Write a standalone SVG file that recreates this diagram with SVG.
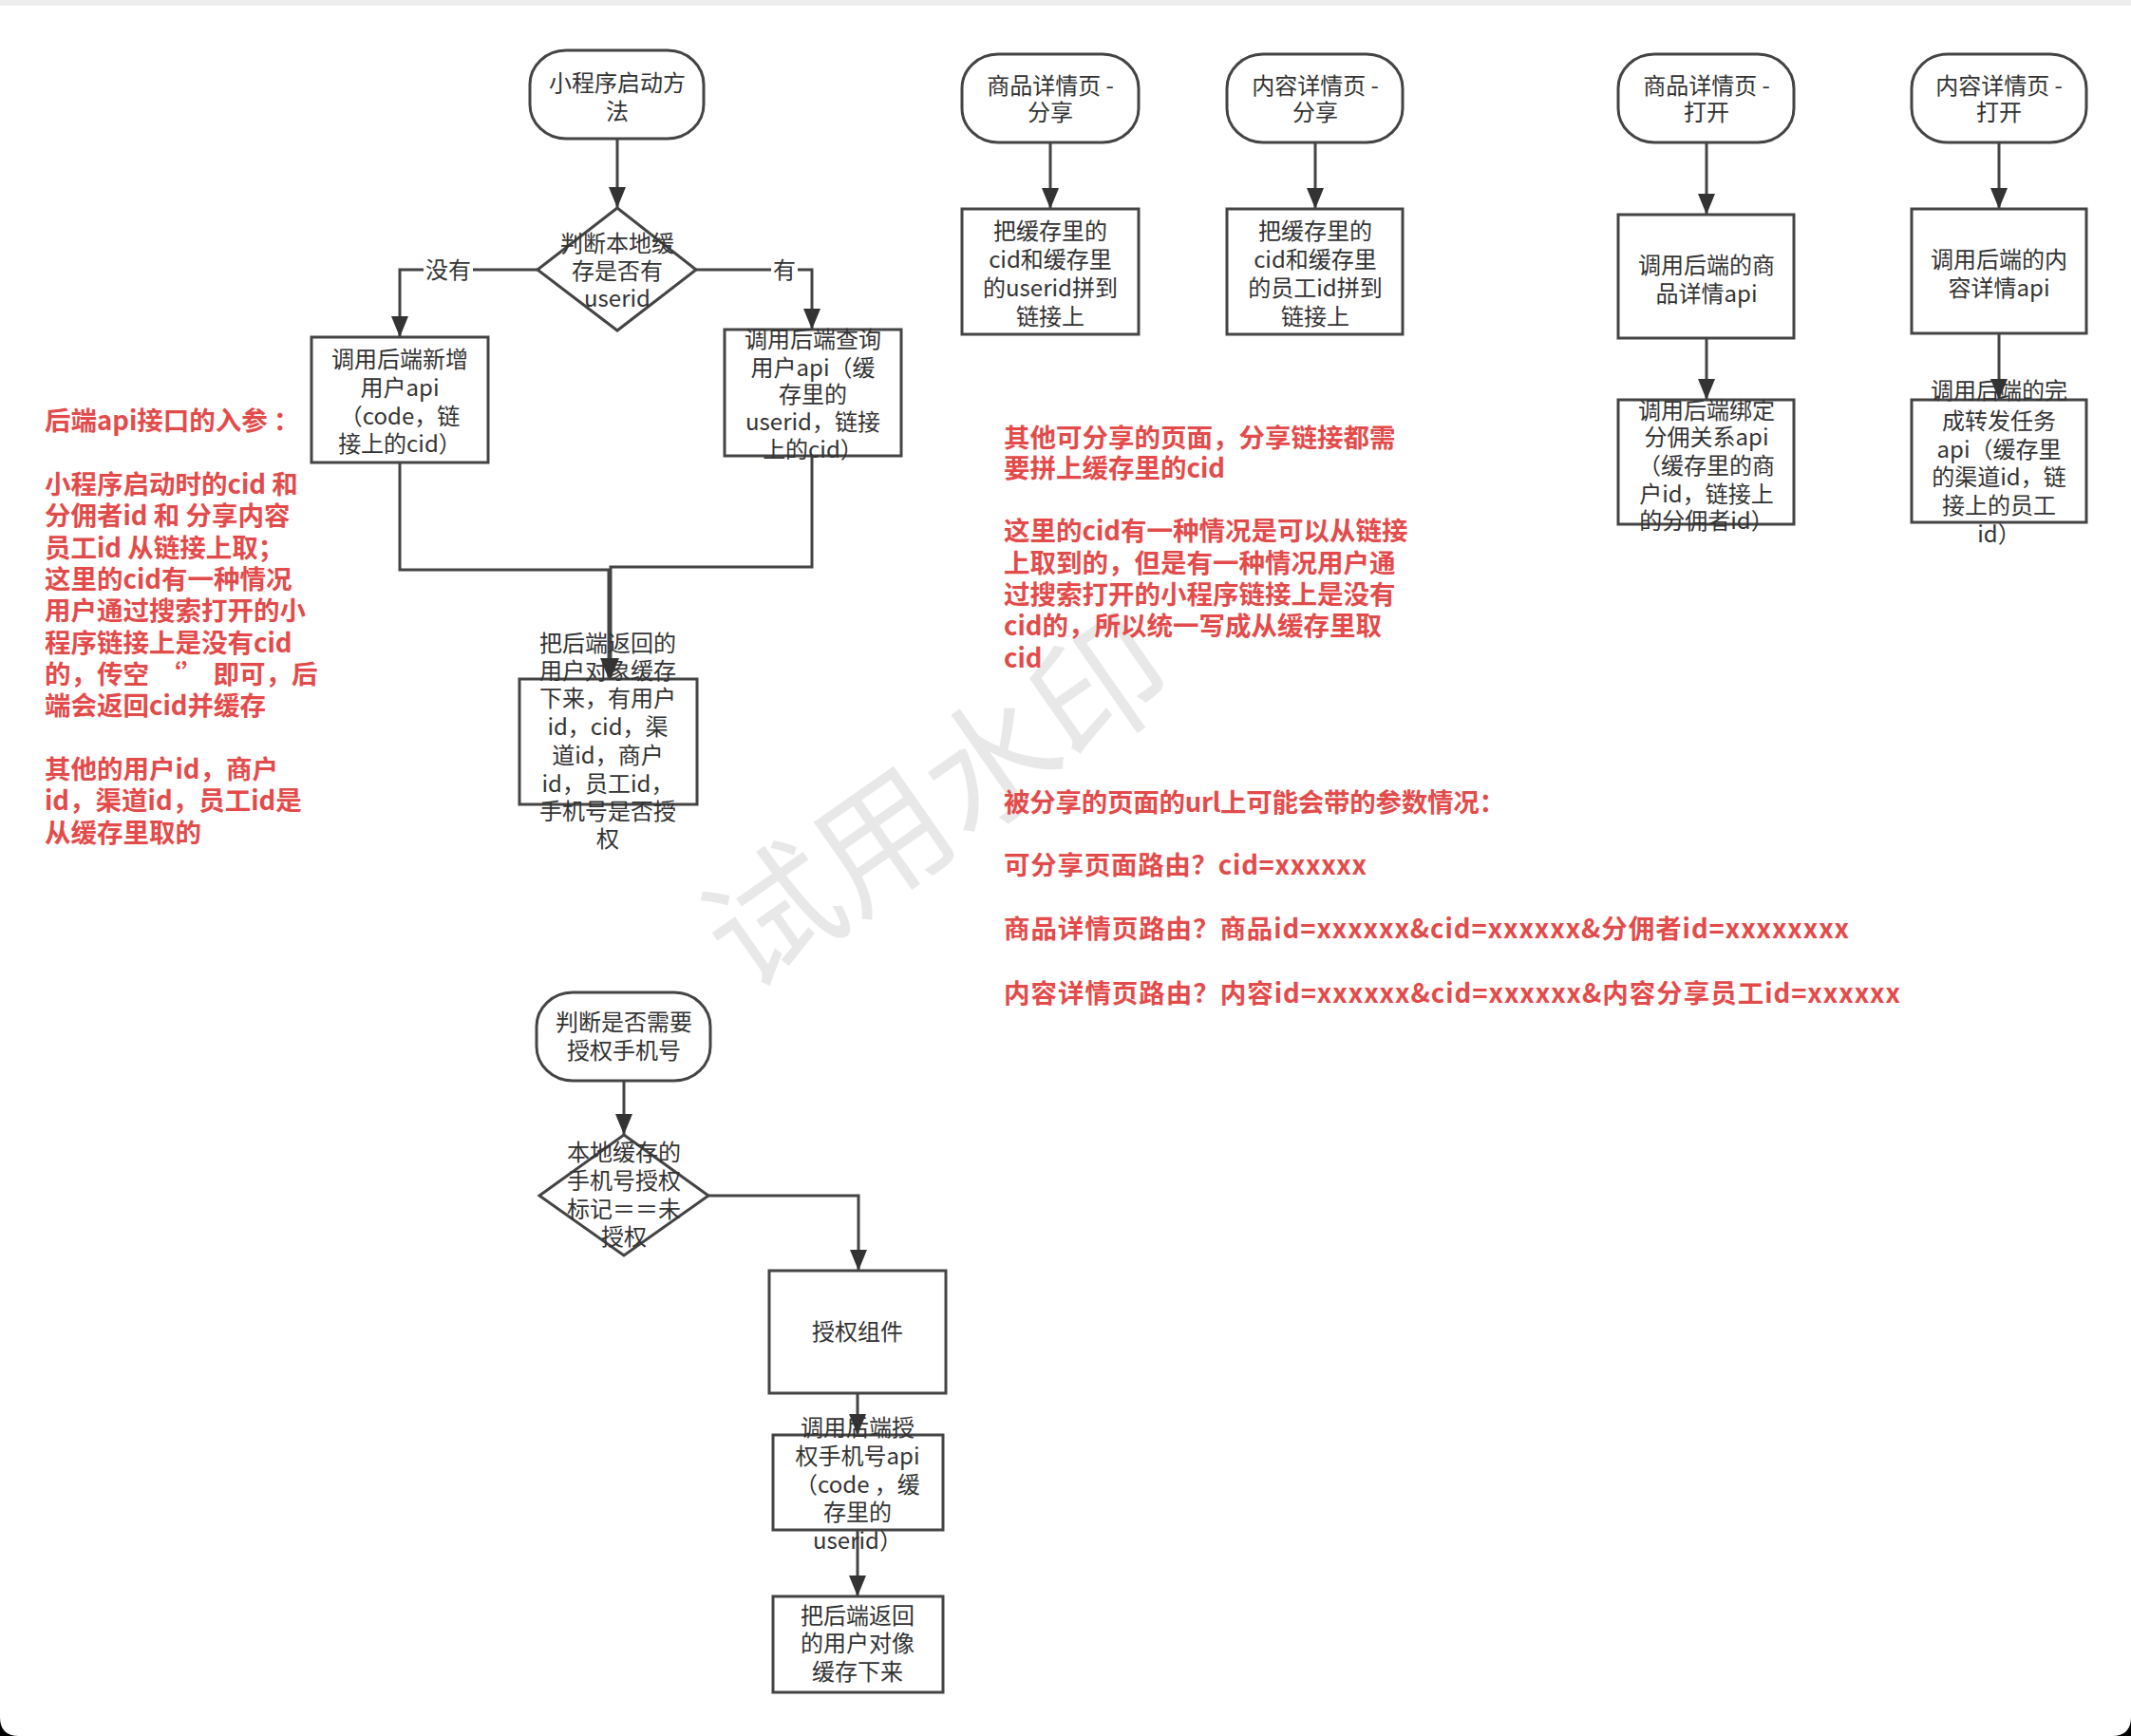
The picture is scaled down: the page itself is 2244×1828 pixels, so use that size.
<svg xmlns="http://www.w3.org/2000/svg" width="2244" height="1828" viewBox="0 0 2244 1828">
<defs>
<style>
.shape{fill:#ffffff;stroke:#444444;stroke-width:3}
.edge{fill:none;stroke:#444444;stroke-width:3;marker-end:url(#arrd)}
.t{font-family:"Noto Sans CJK SC","Noto Sans",sans-serif;font-size:24px;fill:#333333;text-anchor:middle}
.r{font-family:"Noto Sans CJK SC","Noto Sans",sans-serif;font-size:27.5px;font-weight:bold;fill:#e34b4b}
.lblbg{fill:#ffffff}
.wm{font-family:"Noto Sans CJK SC",sans-serif;font-size:140px;fill:#e8e8e8;text-anchor:middle}
</style>
<marker id="arrd" markerUnits="userSpaceOnUse" markerWidth="22" markerHeight="18" viewBox="0 0 22 18" refX="22" refY="9" orient="auto">
<path d="M0,0 L22,9 L0,18 Z" fill="#333333"/>
</marker>
</defs>

<rect x="0" y="0" width="2244" height="1828" fill="#000000"/>
<path d="M0,0 H2244 V1808 Q2244,1828 2224,1828 H20 Q0,1828 0,1808 Z" fill="#ffffff"/>
<rect x="0" y="0" width="2244" height="6" fill="#eeeeee"/>

<text class="wm" x="987" y="895" transform="rotate(-35 987 845)">试用水印</text>

<g id="connectors">
<path class="edge" d="M650,146 V219"/>
<path class="edge" d="M566,284 H421 V355"/>
<path class="edge" d="M733,284 H855 V347"/>
<path class="edge" d="M421,487 V600 H641 V715"/>
<path class="edge" d="M855,480 V597 H643 V715"/>
<path class="edge" d="M1106,150 V220"/>
<path class="edge" d="M1385,150 V220"/>
<path class="edge" d="M1797,150 V226"/>
<path class="edge" d="M1797,356 V421"/>
<path class="edge" d="M2105,150 V220"/>
<path class="edge" d="M2105,351 V421"/>
<path class="edge" d="M657,1138 V1195"/>
<path class="edge" d="M746,1259 H904 V1338"/>
<path class="edge" d="M903,1467 V1511"/>
<path class="edge" d="M903,1611 V1681"/>
<rect class="lblbg" x="446" y="270" width="52" height="28"/>
<text class="t" x="472" y="293">没有</text>
<rect class="lblbg" x="812" y="270" width="28" height="28"/>
<text class="t" x="826" y="293">有</text>
</g>

<g id="start">
<rect class="shape" x="558" y="53" width="183" height="93" rx="38" ry="36"/>
<text class="t"><tspan x="650" y="96">小程序启动方</tspan><tspan x="650" y="126">法</tspan></text>
</g>

<g id="check-userid">
<path class="shape" d="M650,219 L733,284 L650,348 L566,284 Z"/>
<text class="t"><tspan x="650" y="265">判断本地缓</tspan><tspan x="650" y="294">存是否有</tspan><tspan x="650" y="323">userid</tspan></text>
</g>

<g id="create-user">
<rect class="shape" x="328" y="355" width="186" height="132"/>
<text class="t"><tspan x="421" y="387">调用后端新增</tspan><tspan x="421" y="417">用户api</tspan><tspan x="421" y="447">（code，链</tspan><tspan x="421" y="476">接上的cid）</tspan></text>
</g>

<g id="query-user">
<rect class="shape" x="763" y="347" width="186" height="133"/>
<text class="t"><tspan x="856" y="366">调用后端查询</tspan><tspan x="856" y="396">用户api（缓</tspan><tspan x="856" y="424">存里的</tspan><tspan x="856" y="453">userid，链接</tspan><tspan x="856" y="482">上的cid）</tspan></text>
</g>

<g id="cache-user">
<rect class="shape" x="547" y="715" width="187" height="132"/>
<text class="t"><tspan x="640" y="686">把后端返回的</tspan><tspan x="640" y="715">用户对象缓存</tspan><tspan x="640" y="744">下来，有用户</tspan><tspan x="640" y="774">id，cid，渠</tspan><tspan x="640" y="804">道id，商户</tspan><tspan x="640" y="834">id，员工id，</tspan><tspan x="640" y="863">手机号是否授</tspan><tspan x="640" y="892">权</tspan></text>
</g>

<g id="note-left">
<text class="r"><tspan x="47" y="453">后端api接口的入参 ：</tspan><tspan x="47" y="520">小程序启动时的cid 和</tspan><tspan x="47" y="553">分佣者id 和 分享内容</tspan><tspan x="47" y="587">员工id 从链接上取；</tspan><tspan x="47" y="620">这里的cid有一种情况</tspan><tspan x="47" y="653">用户通过搜索打开的小</tspan><tspan x="47" y="687">程序链接上是没有cid</tspan><tspan x="47" y="720">的，传空 ‘’ 即可，后</tspan><tspan x="47" y="753">端会返回cid并缓存</tspan><tspan x="47" y="820">其他的用户id，商户</tspan><tspan x="47" y="853">id，渠道id，员工id是</tspan><tspan x="47" y="887">从缓存里取的</tspan></text>
</g>

<g id="goods-share">
<rect class="shape" x="1013" y="57" width="186" height="93" rx="38" ry="36"/>
<text class="t"><tspan x="1106" y="99">商品详情页 -</tspan><tspan x="1106" y="127">分享</tspan></text>
</g>
<g id="goods-share-link">
<rect class="shape" x="1013" y="220" width="186" height="132"/>
<text class="t"><tspan x="1106" y="252">把缓存里的</tspan><tspan x="1106" y="282">cid和缓存里</tspan><tspan x="1106" y="312">的userid拼到</tspan><tspan x="1106" y="342">链接上</tspan></text>
</g>

<g id="content-share">
<rect class="shape" x="1292" y="57" width="185" height="93" rx="38" ry="36"/>
<text class="t"><tspan x="1385" y="99">内容详情页 -</tspan><tspan x="1385" y="127">分享</tspan></text>
</g>
<g id="content-share-link">
<rect class="shape" x="1292" y="220" width="185" height="132"/>
<text class="t"><tspan x="1385" y="252">把缓存里的</tspan><tspan x="1385" y="282">cid和缓存里</tspan><tspan x="1385" y="312">的员工id拼到</tspan><tspan x="1385" y="342">链接上</tspan></text>
</g>

<g id="goods-open">
<rect class="shape" x="1704" y="57" width="185" height="93" rx="38" ry="36"/>
<text class="t"><tspan x="1797" y="99">商品详情页 -</tspan><tspan x="1797" y="127">打开</tspan></text>
</g>
<g id="goods-detail-api">
<rect class="shape" x="1704" y="226" width="185" height="130"/>
<text class="t"><tspan x="1797" y="288">调用后端的商</tspan><tspan x="1797" y="318">品详情api</tspan></text>
</g>
<g id="bind-api">
<rect class="shape" x="1704" y="421" width="185" height="131"/>
<text class="t"><tspan x="1797" y="441">调用后端绑定</tspan><tspan x="1797" y="469">分佣关系api</tspan><tspan x="1797" y="499">（缓存里的商</tspan><tspan x="1797" y="529">户id，链接上</tspan><tspan x="1797" y="557">的分佣者id）</tspan></text>
</g>

<g id="content-open">
<rect class="shape" x="2013" y="57" width="184" height="93" rx="38" ry="36"/>
<text class="t"><tspan x="2105" y="99">内容详情页 -</tspan><tspan x="2105" y="127">打开</tspan></text>
</g>
<g id="content-detail-api">
<rect class="shape" x="2013" y="220" width="184" height="131"/>
<text class="t"><tspan x="2105" y="282">调用后端的内</tspan><tspan x="2105" y="312">容详情api</tspan></text>
</g>
<g id="forward-api">
<rect class="shape" x="2013" y="421" width="184" height="129"/>
<text class="t"><tspan x="2105" y="420">调用后端的完</tspan><tspan x="2105" y="452">成转发任务</tspan><tspan x="2105" y="482">api（缓存里</tspan><tspan x="2105" y="511">的渠道id，链</tspan><tspan x="2105" y="541">接上的员工</tspan><tspan x="2105" y="571">id）</tspan></text>
</g>

<g id="note-mid">
<text class="r"><tspan x="1057" y="471">其他可分享的页面，分享链接都需</tspan><tspan x="1057" y="503">要拼上缓存里的cid</tspan><tspan x="1057" y="569">这里的cid有一种情况是可以从链接</tspan><tspan x="1057" y="603">上取到的，但是有一种情况用户通</tspan><tspan x="1057" y="636">过搜索打开的小程序链接上是没有</tspan><tspan x="1057" y="669">cid的，所以统一写成从缓存里取</tspan><tspan x="1057" y="703">cid</tspan></text>
</g>
<g id="note-params">
<text class="r" x="1057" y="855" textLength="528" lengthAdjust="spacing">被分享的页面的url上可能会带的参数情况：</text>
<text class="r" x="1057" y="921" textLength="382" lengthAdjust="spacing">可分享页面路由？cid=xxxxxx</text>
<text class="r" x="1057" y="988" textLength="890" lengthAdjust="spacing">商品详情页路由？商品id=xxxxxx&amp;cid=xxxxxx&amp;分佣者id=xxxxxxxx</text>
<text class="r" x="1057" y="1056" textLength="944" lengthAdjust="spacing">内容详情页路由？内容id=xxxxxx&amp;cid=xxxxxx&amp;内容分享员工id=xxxxxx</text>
</g>

<g id="phone-start">
<rect class="shape" x="565" y="1045" width="183" height="93" rx="38" ry="36"/>
<text class="t"><tspan x="657" y="1085">判断是否需要</tspan><tspan x="657" y="1115">授权手机号</tspan></text>
</g>
<g id="phone-check">
<path class="shape" d="M657,1195 L746,1259 L657,1322 L568,1259 Z"/>
<text class="t"><tspan x="657" y="1222">本地缓存的</tspan><tspan x="657" y="1252">手机号授权</tspan><tspan x="657" y="1282">标记＝＝未</tspan><tspan x="657" y="1311">授权</tspan></text>
</g>
<g id="auth-component">
<rect class="shape" x="810" y="1338" width="186" height="129"/>
<text class="t" x="903" y="1411">授权组件</text>
</g>
<g id="auth-api">
<rect class="shape" x="814" y="1511" width="179" height="100"/>
<text class="t"><tspan x="903" y="1512">调用后端授</tspan><tspan x="903" y="1542">权手机号api</tspan><tspan x="903" y="1572">（code ，缓</tspan><tspan x="903" y="1601">存里的</tspan><tspan x="903" y="1631">userid）</tspan></text>
</g>
<g id="cache-user-2">
<rect class="shape" x="814" y="1681" width="179" height="101"/>
<text class="t"><tspan x="903" y="1710">把后端返回</tspan><tspan x="903" y="1739">的用户对像</tspan><tspan x="903" y="1769">缓存下来</tspan></text>
</g>
</svg>
